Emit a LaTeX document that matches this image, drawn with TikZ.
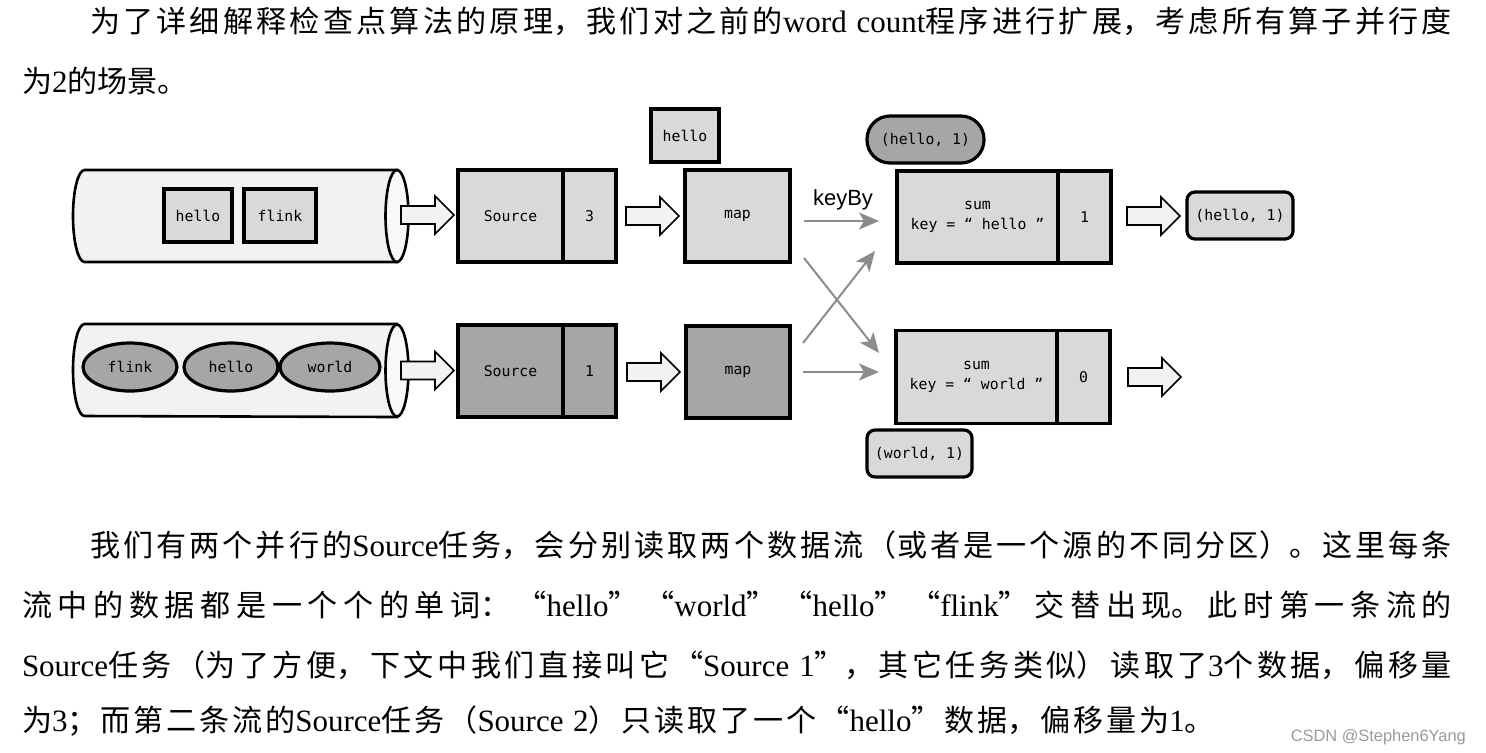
\documentclass[tikz,border=0pt]{standalone}
\usepackage{fontspec}
\setmainfont{Liberation Serif}
\newfontfamily\cjk[Scale=0.97]{Noto Sans CJK SC}
\newfontfamily\codefont{DejaVu Sans Mono}
\newfontfamily\labelfont{Liberation Sans}
\usetikzlibrary{arrows.meta,positioning}
\XeTeXlinebreaklocale "zh"
\XeTeXlinebreakskip=0pt plus 3pt
\tolerance=10000
\hbadness=10000
\newcommand{\codesize}{\codefont\fontsize{7.4pt}{10pt}\selectfont}
\newcommand{\bodysize}{\fontsize{15.5pt}{20pt}\selectfont}

\definecolor{lightbox}{HTML}{D9D9D9}
\definecolor{darkbox}{HTML}{A6A6A6}
\definecolor{pipefill}{HTML}{F2F2F2}
\definecolor{pipeend}{HTML}{F8F8F8}
\definecolor{flowgray}{HTML}{8C8C8C}
\definecolor{markgray}{HTML}{9A9A9A}

\tikzset{> = {Stealth[length=10pt, width=8.5pt, inset=2.5pt]}, every picture/.style={line width=0.8pt}}
\tikzset{
  textline/.style = {anchor=base west, inner sep=0pt, outer sep=0pt, font=\bodysize},
  fullline/.style = {textline, align=justify},
  task/.style = {draw, line width=1.6pt, fill=lightbox, inner sep=0pt, outer sep=0pt,
                 minimum height=46pt, font=\codesize},
  darktask/.style = {task, fill=darkbox},
  wordbox/.style = {task, minimum height=26.5pt},
  wordoval/.style = {ellipse, draw, line width=1.6pt, fill=darkbox, inner sep=0pt,
                     minimum width=47pt, minimum height=24pt, font=\codesize},
  tuple/.style = {draw, line width=1.6pt, fill=lightbox, inner sep=0pt, outer sep=0pt,
                  rounded corners=4pt, minimum width=53pt, minimum height=23.5pt, font=\codesize},
  pipe/.style = {draw, line width=1.3pt, fill=pipefill},
  flow/.style = {->, draw=flowgray, line width=1pt},
  fatarrow/.pic = {\draw[fill=pipefill, line width=0.8pt] (0,-9) -- (34,-9) -- (34,-19) -- (53,0)
                   -- (34,19) -- (34,9) -- (0,9) -- cycle;}
}
\usetikzlibrary{shapes.geometric}

\begin{document}
\begin{tikzpicture}[x=0.5pt, y=-0.5pt]
\useasboundingbox[fill=white] (0,0) rectangle (1486,752);

% text above
\node[fullline, text width=681pt] (line1) at (90,32) {\parfillskip=0pt
  {\cjk 为了详细解释检查点算法的原理，我们对之前的}word count{\cjk 程序进行扩展，考虑所有算子并行度}\par};
\node[textline] (line2) at (22,92) {{\cjk 为}2{\cjk 的场景。}};

% the two pipes
\foreach \ya/\yc/\yb in {170/216/262, 324/370.5/417} {
  \draw[pipe] (397,\ya) -- (84.5,\ya) arc[start angle=90, end angle=270, x radius=5.75pt, y radius=23pt]
    -- (397,\yb) -- cycle;
  \draw[pipe, fill=pipeend] (397,\yc) ellipse[x radius=5.75pt, y radius=23pt];
}

\node[wordbox, minimum width=34pt] (w1) at (198,215.5) {hello};
\node[wordbox, minimum width=36pt] (w2) at (280,215.5) {flink};
\node[wordoval] (e1) at (130,367) {flink};
\node[wordoval] (e2) at (231,367) {hello};
\node[wordoval, minimum width=50pt] (e3) at (330,367) {world};

% tasks
\node[task, minimum width=52.5pt] (src1) at (510.5,216) {Source};
\node[task, minimum width=26.5pt, right=0pt of src1] (src1n) {3};
\node[task, minimum width=52.5pt] (map1) at (737.5,216) {map};
\node[task, minimum width=80.5pt, align=center] (sum1) at (977.5,217) {sum\\key = “ hello ”};
\node[task, minimum width=26.5pt, right=0pt of sum1] (sum1n) {1};

\node[darktask, minimum width=52.5pt] (src2) at (510.5,371) {Source};
\node[darktask, minimum width=26.5pt, right=0pt of src2] (src2n) {1};
\node[darktask, minimum width=52pt] (map2) at (738,372) {map};
\node[task, minimum width=80.5pt, minimum height=46.5pt, align=center] (sum2) at (976.5,377) {sum\\key = “ world ”};
\node[task, minimum width=26.5pt, minimum height=46.5pt, right=0pt of sum2] (sum2n) {0};

\node[wordbox, minimum width=34pt] (msg) at (685,135.5) {hello};
\node[tuple, fill=darkbox, rounded corners=11.5pt, minimum width=58.5pt] (pair1) at (925.5,139.5) {(hello, 1)};
\node[tuple] (out1) at (1240,215.5) {(hello, 1)};
\node[tuple, minimum width=52.5pt] (pair2) at (919.5,453.5) {(world, 1)};

% block arrows
\foreach \x/\y in {401/215, 626/216, 1127/216, 401/370.5, 627/372, 1128/377}
  \pic at (\x,\y) {fatarrow};

% keyBy
\node[font=\labelfont\fontsize{11pt}{13pt}\selectfont, inner sep=0pt] (keyby) at (843,200) {keyBy};
\draw[flow, shorten <=7pt, shorten >=9pt] ([yshift=-2.5pt]map1.east) -- ([yshift=-2pt]sum1.west);
\draw[flow] ([xshift=7pt, yshift=2pt]map1.south east) -- ([xshift=-8.5pt, yshift=12pt]sum2.west);
\draw[flow] ([xshift=6.5pt, yshift=-8.5pt]map2.north east) -- ([xshift=-11pt, yshift=-17pt]sum1.west);
\draw[flow, shorten <=6.5pt, shorten >=8.5pt] (map2.east) -- (sum2.west |- map2.east);

% text below
\node[fullline, text width=681pt] (line3) at (90,556) {\parfillskip=0pt
  {\cjk 我们有两个并行的}Source{\cjk 任务，会分别读取两个数据流（或者是一个源的不同分区）。这里每条}\par};
\node[fullline, text width=715pt] (line4) at (22,616) {\parfillskip=0pt
  {\cjk 流中的数据都是一个个的单词：“}hello{\cjk ”“}world{\cjk ”“}hello{\cjk ”“}flink{\cjk ”交替出现。此时第一条流的}\par};
\node[fullline, text width=715pt] (line5) at (22,676) {\parfillskip=0pt
  Source{\cjk 任务（为了方便，下文中我们直接叫它“}Source 1{\cjk ”，其它任务类似）读取了}3{\cjk 个数据，偏移量}\par};
\node[fullline, text width=596.5pt] (line6) at (22,731) {\parfillskip=0pt
  {\cjk 为}3{\cjk ；而第二条流的}Source{\cjk 任务（}Source 2{\cjk ）只读取了一个“}hello{\cjk ”数据，偏移量为}1{\cjk 。}\par};

\node[anchor=base west, inner sep=0pt, text=markgray, font=\labelfont\fontsize{8.2pt}{10pt}\selectfont] (mark) at (1290,741) {CSDN @Stephen6Yang};
\end{tikzpicture}
\end{document}
